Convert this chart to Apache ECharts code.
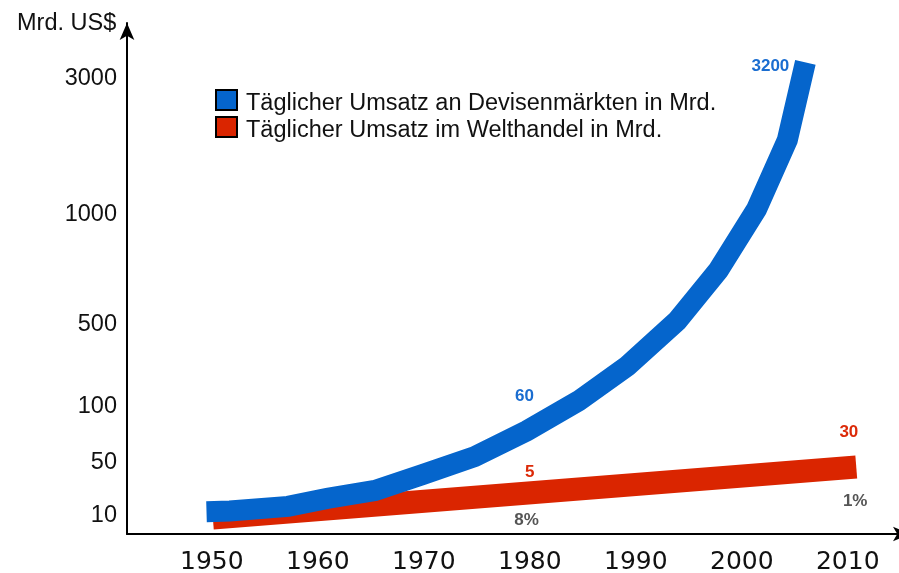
<!DOCTYPE html>
<html>
<head>
<meta charset="utf-8">
<script src="https://cdn.jsdelivr.net/npm/echarts@6/dist/echarts.min.js"></script>
<style>
  html, body { margin: 0; padding: 0; background: #fff; }
  #main { width: 899px; height: 573px; }
</style>
</head>
<body>
<div id="main"></div>
<script>
// Täglicher Umsatz an Devisenmärkten (blau)
const forexYears = [1949.5, 1951.7, 1957.2, 1960.9, 1965.4, 1969.9, 1974.8, 1979.7, 1984.6, 1989.2, 1993.9, 1997.8, 2001.4, 2004.3, 2006.0];
const forexValues = [11, 11.5, 15, 21, 27, 39, 53, 76, 115, 285, 505, 736, 1044, 2059, 3200];

// Täglicher Umsatz im Welthandel (rot)
const tradeYears = [1950.1, 2010.8];
const tradeValues = [7.6, 44.7];

// Achsenbeschriftung
const xTicks = [1950, 1960, 1970, 1980, 1990, 2000, 2010];
const yTicks = [10, 50, 100, 500, 1000, 3000];

// Beschriftungen im Diagramm
const noteTexts = ['3200', '60', '5', '8%', '30', '1%'];
const noteYears = [2002.7, 1979.5, 1980.0, 1979.7, 2010.1, 2010.7];
const noteValues = [3147, 139, 40.9, 6.7, 74.6, 19];
const noteKinds = ['forex', 'forex', 'trade', 'share', 'trade', 'share'];

const colors = { forex: '#0565cc', trade: '#da2500', share: '#555555' };
const labelColors = { forex: '#1a6dd0', trade: '#dc2a08', share: '#555555' };

// die y-Achse im Original ist schematisch (weder linear noch log) -> stückweise linear
const scaleVals = [0, 10, 50, 100, 500, 1000, 3000, 4000];
const scaleUnits = [0, 21, 74, 130, 212, 322, 458, 526];

function toAxis(v) {
    for (let i = 1; i < scaleVals.length; i++) {
        if (v <= scaleVals[i] || i === scaleVals.length - 1) {
            const t = (v - scaleVals[i - 1]) / (scaleVals[i] - scaleVals[i - 1]);
            return scaleUnits[i - 1] + t * (scaleUnits[i] - scaleUnits[i - 1]);
        }
    }
}

function fromAxis(u) {
    for (let i = 1; i < scaleUnits.length; i++) {
        if (u <= scaleUnits[i] + 0.01 || i === scaleUnits.length - 1) {
            const t = (u - scaleUnits[i - 1]) / (scaleUnits[i] - scaleUnits[i - 1]);
            return scaleVals[i - 1] + t * (scaleVals[i] - scaleVals[i - 1]);
        }
    }
}

const pair = (xs, ys) => xs.map((x, i) => [x, toAxis(ys[i])]);

var myChart = echarts.init(document.getElementById('main'));

var option = {
    animation: false,
    backgroundColor: '#ffffff',
    title: {
        text: 'Mrd. US$',
        left: 17,
        top: 12,
        padding: 0,
        textStyle: { fontFamily: 'Liberation Sans', fontSize: 23.5, fontWeight: 'normal', color: '#111' }
    },
    legend: {
        orient: 'vertical',
        left: 215,
        top: 89,
        padding: 0,
        itemWidth: 21,
        itemHeight: 20,
        itemGap: 0,
        formatter: function (name) { return '{t|' + name + '}'; },
        textStyle: {
            rich: {
                t: { fontFamily: 'Liberation Sans', fontSize: 23.5, color: '#111', padding: [8, 0, 0, 4] }
            }
        },
        data: [
            { name: 'Täglicher Umsatz an Devisenmärkten in Mrd.', icon: 'rect', itemStyle: { color: colors.forex, borderColor: '#000', borderWidth: 2 } },
            { name: 'Täglicher Umsatz im Welthandel in Mrd.', icon: 'rect', itemStyle: { color: colors.trade, borderColor: '#000', borderWidth: 2 } }
        ]
    },
    grid: { left: 127, right: -11, top: 23, bottom: 39, containLabel: false, outerBoundsMode: 'none' },
    xAxis: {
        type: 'value',
        min: 1942,
        max: 2015.87,
        splitLine: { show: false },
        axisTick: { show: false },
        axisLine: {
            show: true,
            symbol: ['none', 'arrow'],
            symbolSize: [11, 17],
            lineStyle: { color: '#000', width: 2 }
        },
        axisLabel: {
            customValues: xTicks,
            formatter: function (v) { return String(v); },
            margin: 16,
            fontFamily: 'DejaVu Sans',
            fontSize: 25,
            color: '#111'
        }
    },
    yAxis: {
        type: 'value',
        min: 0,
        max: 511,
        splitLine: { show: false },
        axisTick: { show: false },
        axisLine: {
            show: true,
            symbol: ['none', 'arrow'],
            symbolSize: [11, 17],
            lineStyle: { color: '#000', width: 2 }
        },
        axisLabel: {
            customValues: yTicks.map(toAxis),
            formatter: function (u) { return '{v|' + Math.round(fromAxis(u)) + '}'; },
            margin: 10,
            rich: {
                v: { fontFamily: 'Liberation Sans', fontSize: 23.5, color: '#111', padding: [6, 0, 0, 0] }
            }
        }
    },
    series: [
        {
            name: 'Täglicher Umsatz im Welthandel in Mrd.',
            type: 'line',
            data: pair(tradeYears, tradeValues),
            showSymbol: false,
            symbol: 'none',
            lineStyle: { color: colors.trade, width: 23, cap: 'butt', join: 'miter' },
            itemStyle: { color: colors.trade },
            z: 2
        },
        {
            name: 'Täglicher Umsatz an Devisenmärkten in Mrd.',
            type: 'line',
            data: pair(forexYears, forexValues),
            showSymbol: false,
            symbol: 'none',
            lineStyle: { color: colors.forex, width: 21, cap: 'butt', join: 'miter' },
            itemStyle: { color: colors.forex },
            z: 3
        },
        {
            name: 'notes',
            type: 'scatter',
            symbolSize: 0,
            silent: true,
            z: 4,
            data: noteTexts.map((t, i) => ({
                value: [noteYears[i], toAxis(noteValues[i])],
                itemStyle: { color: labelColors[noteKinds[i]], opacity: 1 },
                label: {
                    show: true,
                    position: 'inside',
                    formatter: t,
                    fontFamily: 'Liberation Sans',
                    fontWeight: 'bold',
                    fontSize: 17,
                    color: labelColors[noteKinds[i]],
                    opacity: 1,
                    textBorderWidth: 0
                }
            }))
        }
    ]
};

myChart.setOption(option);
</script>
</body>
</html>
